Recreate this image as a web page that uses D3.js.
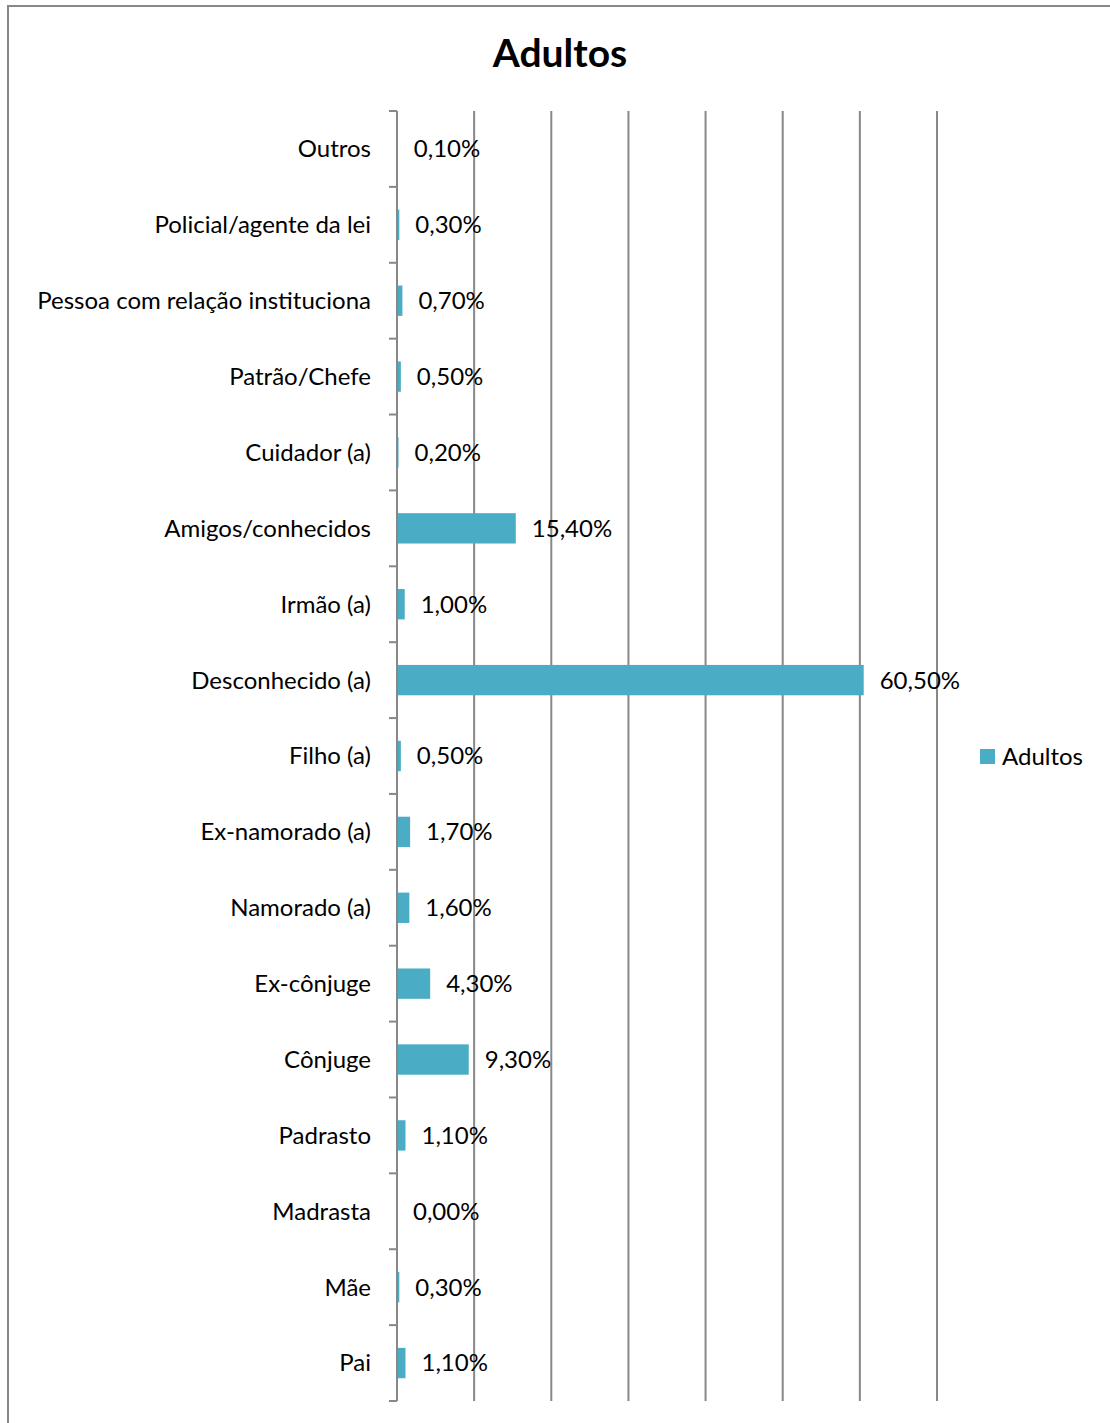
<!DOCTYPE html>
<html>
<head>
<meta charset="utf-8">
<script src="https://cdn.jsdelivr.net/npm/d3@7"></script>
<style>
  body { margin: 0; background: #fff; }
  text { font-family: Lato, "Open Sans", sans-serif; fill: #000; }
</style>
</head>
<body>
<div class="chart"></div>
<script>
// categories from top to bottom
var categories = ["Outros", "Policial/agente da lei", "Pessoa com relação instituciona",
  "Patrão/Chefe", "Cuidador (a)", "Amigos/conhecidos", "Irmão (a)", "Desconhecido (a)",
  "Filho (a)", "Ex-namorado (a)", "Namorado (a)", "Ex-cônjuge", "Cônjuge",
  "Padrasto", "Madrasta", "Mãe", "Pai"];
var values = [0.1, 0.3, 0.7, 0.5, 0.2, 15.4, 1.0, 60.5, 0.5, 1.7, 1.6, 4.3, 9.3, 1.1, 0.0, 0.3, 1.1];
var gridTicks = [10, 20, 30, 40, 50, 60, 70];
var seriesName = "Adultos";

var svgWidth = 1110;
var svgHeight = 1423;

var margin = { top: 111, left: 397, right: 173, bottom: 22 };
var width = svgWidth - margin.left - margin.right;   // 540
var height = svgHeight - margin.top - margin.bottom; // 1290

var svg = d3.select(".chart")
  .append("svg")
  .attr("width", svgWidth)
  .attr("height", svgHeight);

// outer chart border (cropped at right and bottom)
svg.append("rect")
  .attr("x", 8)
  .attr("y", 6)
  .attr("width", 1110)
  .attr("height", 1430)
  .attr("fill", "none")
  .attr("stroke", "#888")
  .attr("stroke-width", 2);

// title
svg.append("text")
  .attr("x", 560)
  .attr("y", 67)
  .attr("text-anchor", "middle")
  .attr("font-size", "39px")
  .attr("font-weight", "bold")
  .text(seriesName);

var chartGroup = svg.append("g")
  .attr("transform", `translate(${margin.left}, ${margin.top})`);

var xScale = d3.scaleLinear().domain([0, 70]).range([0, width]);
var yScale = d3.scaleBand().domain(categories).range([0, height]).paddingInner(0.6).paddingOuter(0.3);

// vertical gridlines
chartGroup.selectAll(".grid")
  .data(gridTicks)
  .enter().append("line")
  .attr("class", "grid")
  .attr("x1", d => xScale(d))
  .attr("x2", d => xScale(d))
  .attr("y1", 0)
  .attr("y2", height)
  .attr("stroke", "#888")
  .attr("stroke-width", 2);

// bars
chartGroup.selectAll(".bar")
  .data(values)
  .enter().append("rect")
  .attr("class", "bar")
  .attr("x", 0)
  .attr("y", (d, i) => yScale(categories[i]))
  .attr("width", d => xScale(d))
  .attr("height", yScale.bandwidth())
  .attr("fill", "#4BACC6");

// value labels
chartGroup.selectAll(".val")
  .data(values)
  .enter().append("text")
  .attr("class", "val")
  .attr("x", d => xScale(d) + 16)
  .attr("y", (d, i) => yScale(categories[i]) + yScale.bandwidth() / 2)
  .attr("dy", "0.35em")
  .attr("font-size", "24px")
  .text(d => d.toFixed(2).replace(".", ",") + "%");

// y axis: line plus ticks at band boundaries
var step = height / categories.length;
var boundaries = d3.range(categories.length + 1).map(i => i * step);

chartGroup.append("line")
  .attr("x1", 0).attr("x2", 0)
  .attr("y1", 0).attr("y2", height)
  .attr("stroke", "#888")
  .attr("stroke-width", 2);

chartGroup.selectAll(".tick")
  .data(boundaries)
  .enter().append("line")
  .attr("class", "tick")
  .attr("x1", -8).attr("x2", 0)
  .attr("y1", d => d).attr("y2", d => d)
  .attr("stroke", "#888")
  .attr("stroke-width", 2);

// category labels
chartGroup.selectAll(".cat")
  .data(categories)
  .enter().append("text")
  .attr("class", "cat")
  .attr("x", -26)
  .attr("y", d => yScale(d) + yScale.bandwidth() / 2)
  .attr("dy", "0.35em")
  .attr("text-anchor", "end")
  .attr("font-size", "24px")
  .text(d => d);

// legend
var legend = svg.append("g").attr("transform", "translate(980, 749)");
legend.append("rect")
  .attr("width", 15).attr("height", 15)
  .attr("fill", "#4BACC6");
legend.append("text")
  .attr("x", 22)
  .attr("y", 7.5)
  .attr("dy", "0.35em")
  .attr("font-size", "24px")
  .text(seriesName);
</script>
</body>
</html>
